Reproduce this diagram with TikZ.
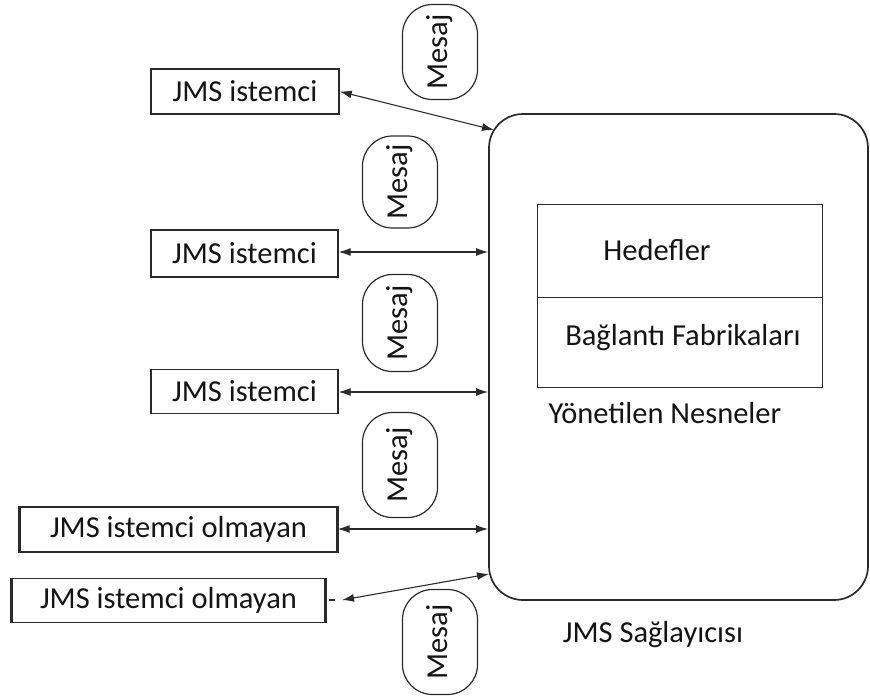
\documentclass[tikz,border=0pt]{standalone}
\usepackage{fontspec}
\setmainfont{Carlito}
\usetikzlibrary{arrows.meta}
\definecolor{ink}{HTML}{141414}
\definecolor{edge}{HTML}{2A2A2A}
\begin{document}
\begin{tikzpicture}[x=1pt,y=-1pt,
  every node/.style={font=\fontsize{30.5}{36}\selectfont, text=ink, inner sep=0pt},
  clientbox/.style={draw=edge, line width=1.4pt},
  sidebar/.style={draw=edge, line width=3pt},
  msgpill/.style={draw=edge, line width=1.2pt, rounded corners=30pt,
                  rotate=90, minimum height=75pt},
  provider/.style={draw=edge, line width=1.7pt, rounded corners=34pt},
  cell/.style={draw=edge, line width=1.4pt, anchor=north west, minimum width=285pt},
  link/.style={{Latex[length=12pt,width=8pt]}-{Latex[length=12pt,width=8pt]},
               line width=1.1pt, draw=edge}]
  \useasboundingbox (0,0) rectangle (870,699);

  % JMS provider and its administered objects
  \node[provider, minimum width=379pt, minimum height=486pt] (prov) at (678.5,357) {};
  \node[cell, minimum height=93pt] (destcell) at (537,204) {};
  \node[cell, minimum height=90pt] (cfcell) at (537,297) {};
  \node (dest) at (657,250) {Hedefler};
  \node (cf) at (683,338) {Bağlantı Fabrikaları};
  \node (admin) at (665,413) {Yönetilen Nesneler};
  \node (provname) at (653,635) {JMS Sağlayıcısı};

  % clients
  \node[clientbox, minimum width=188pt, minimum height=45pt] (c1) at (245,91.5) {JMS istemci};
  \node[clientbox, minimum width=187pt, minimum height=47pt] (c2) at (244.5,253.5) {JMS istemci};
  \node[clientbox, minimum width=187pt, minimum height=44pt] (c3) at (244.5,391.5) {JMS istemci};
  \node[clientbox, minimum width=317pt, minimum height=45pt] (c4) at (178.5,529.5) {JMS istemci olmayan};
  \node[clientbox, minimum width=313pt, minimum height=44pt] (c5) at (168.5,600.5) {JMS istemci olmayan};
  \foreach \n in {c4,c5} {
    \draw[sidebar] (\n.north west) -- (\n.south west);
    \draw[sidebar] (\n.north east) -- (\n.south east);
  }

  % messages
  \node[msgpill, minimum width=95pt] (m1) at (440,52) {Mesaj};
  \node[msgpill, minimum width=92pt] (m2) at (400,182) {Mesaj};
  \node[msgpill, minimum width=97pt] (m3) at (400,323) {Mesaj};
  \node[msgpill, minimum width=105pt] (m4) at (400,465) {Mesaj};
  \node[msgpill, minimum width=105pt] (m5) at (440,642) {Mesaj};

  % connections between clients and provider
  \coordinate (p1) at (494,130);
  \coordinate (p5) at (489,574);
  \coordinate (t5) at (342,600);
  \coordinate (d5a) at (329,600);
  \coordinate (d5b) at (335,600);
  \draw[link] (c1.east) -- (p1);
  \draw[link] (c2.east |- 0,252) -- (prov.west |- 0,252);
  \draw[link] (c3.east |- 0,392) -- (prov.west |- 0,392);
  \draw[link] (c4.east |- 0,529) -- (prov.west |- 0,529);
  \draw[link] (t5) -- (p5);
  \draw[draw=edge, line width=1.2pt] (d5a) -- (d5b);
\end{tikzpicture}
\end{document}
